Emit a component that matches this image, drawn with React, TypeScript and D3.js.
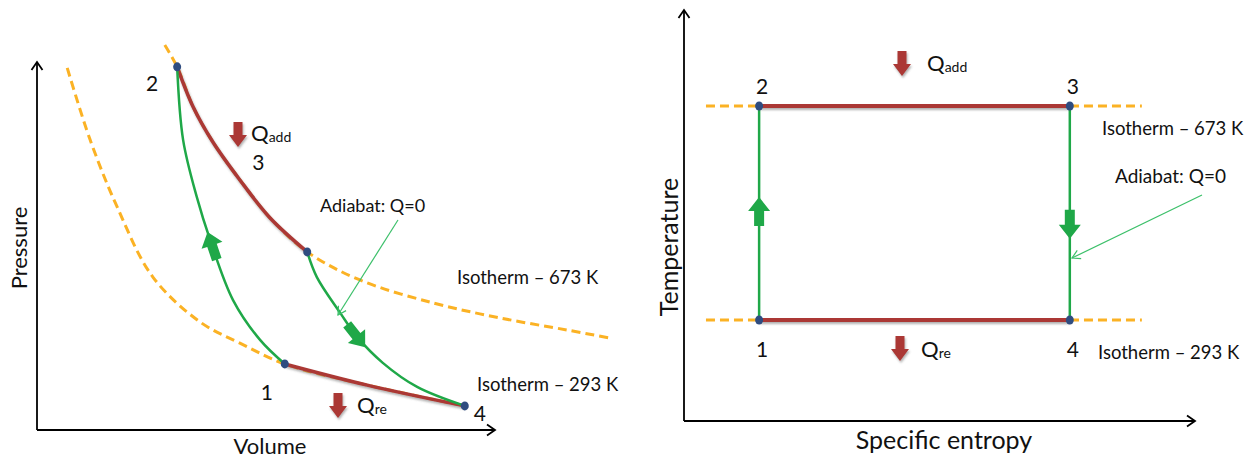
import React, { useEffect, useRef } from "react";
import * as d3 from "d3";

interface PV {
  v: number;
  p: number;
}

// P-V diagram, arbitrary units
const hotIsotherm: PV[] = [
  { v: 2.79, p: 10.55 },
  { v: 3.06, p: 9.95 },
  { v: 3.41, p: 8.85 },
  { v: 3.84, p: 7.89 },
  { v: 4.43, p: 6.85 },
  { v: 5.09, p: 5.81 },
  { v: 5.9, p: 4.88 },
  { v: 7.05, p: 4.11 },
  { v: 8.65, p: 3.48 },
  { v: 10.11, p: 3.07 },
  { v: 11.57, p: 2.74 },
  { v: 12.51, p: 2.52 },
];

const coldIsotherm: PV[] = [
  { v: 0.66, p: 9.92 },
  { v: 1.16, p: 7.95 },
  { v: 1.75, p: 6.11 },
  { v: 2.53, p: 4.19 },
  { v: 3.56, p: 2.96 },
  { v: 4.43, p: 2.38 },
  { v: 5.41, p: 1.81 },
  { v: 7.21, p: 1.23 },
  { v: 9.34, p: 0.66 },
];

// 1 -> 2
const adiabatCompression: PV[] = [
  { v: 5.41, p: 1.81 },
  { v: 4.87, p: 2.47 },
  { v: 4.28, p: 3.56 },
  { v: 3.78, p: 5.21 },
  { v: 3.49, p: 6.38 },
  { v: 3.19, p: 7.95 },
  { v: 3.06, p: 9.95 },
];

// 3 -> 4
const adiabatExpansion: PV[] = [
  { v: 5.9, p: 4.88 },
  { v: 6.11, p: 4.19 },
  { v: 6.62, p: 3.21 },
  { v: 6.99, p: 2.55 },
  { v: 7.55, p: 1.84 },
  { v: 8.3, p: 1.18 },
  { v: 9.34, p: 0.66 },
];

const statesPV = [
  { id: "1", v: 5.41, p: 1.81 },
  { id: "2", v: 3.06, p: 9.95 },
  { id: "3", v: 5.9, p: 4.88 },
  { id: "4", v: 9.34, p: 0.66 },
];

// T-s diagram
const tHot = 673;
const tCold = 293;
const sLow = 1.47;
const sHigh = 7.55;
const isothermSpanS = [0.43, 8.96];
const statesTS = [
  { id: "1", s: sLow, t: tCold },
  { id: "2", s: sLow, t: tHot },
  { id: "3", s: sHigh, t: tHot },
  { id: "4", s: sHigh, t: tCold },
];

const W = 1259;
const H = 457;
const FONT = "Lato, 'Open Sans', sans-serif";
const ORANGE = "#fbb224";
const RED = "#ab3934";
const GREEN = "#1fa848";
const DOT = "#2f4c80";

const App: React.FC = () => {
  const svgRef = useRef<SVGSVGElement | null>(null);

  useEffect(() => {
    const svg = d3.select(svgRef.current);
    svg.selectAll("*").remove();

    const defs = svg.append("defs");
    defs
      .append("marker")
      .attr("id", "axisHead")
      .attr("viewBox", "-10 -7 12 14")
      .attr("refX", 0)
      .attr("refY", 0)
      .attr("markerWidth", 12)
      .attr("markerHeight", 14)
      .attr("markerUnits", "userSpaceOnUse")
      .attr("orient", "auto")
      .append("path")
      .attr("d", "M-8,-5.5L0,0L-8,5.5")
      .attr("fill", "none")
      .attr("stroke", "#000")
      .attr("stroke-width", 1.8);
    defs
      .append("marker")
      .attr("id", "pointerHead")
      .attr("viewBox", "-10 -7 12 14")
      .attr("refX", 0)
      .attr("refY", 0)
      .attr("markerWidth", 12)
      .attr("markerHeight", 14)
      .attr("markerUnits", "userSpaceOnUse")
      .attr("orient", "auto")
      .append("path")
      .attr("d", "M-8,-4.5L0,0L-8,4.5")
      .attr("fill", "none")
      .attr("stroke", "#3cc06a")
      .attr("stroke-width", 1.2);
    // user-space region so flat (zero-height) lines keep their shadow
    const shadow = defs
      .append("filter")
      .attr("id", "shadow")
      .attr("filterUnits", "userSpaceOnUse")
      .attr("x", -60)
      .attr("y", -60)
      .attr("width", W + 120)
      .attr("height", H + 120);
    shadow
      .append("feDropShadow")
      .attr("dx", 1)
      .attr("dy", 2)
      .attr("stdDeviation", 1)
      .attr("flood-color", "#555")
      .attr("flood-opacity", 0.45);

    const blockArrow = "M-13,-5L2,-5L2,-11L16,0L2,11L2,5L-13,5Z";
    const redArrow = "M-4.5,-13L4.5,-13L4.5,0L9,0L0,12L-9,0L-4.5,0Z";

    const arrowAlong = (node: SVGPathElement, frac: number) => {
      const len = node.getTotalLength();
      const c = node.getPointAtLength(len * frac);
      const a = node.getPointAtLength(Math.max(0, len * frac - 5));
      const b = node.getPointAtLength(Math.min(len, len * frac + 5));
      const angle = (Math.atan2(b.y - a.y, b.x - a.x) * 180) / Math.PI;
      svg
        .append("path")
        .attr("d", blockArrow)
        .attr("fill", GREEN)
        .attr("transform", `translate(${c.x},${c.y}) rotate(${angle})`);
    };

    const qLabel = (x: number, y: number, sub: string) => {
      const t = svg
        .append("text")
        .attr("x", x)
        .attr("y", y)
        .attr("font-family", FONT)
        .attr("font-size", 22)
        .attr("fill", "#111");
      t.append("tspan").text("Q");
      t.append("tspan").attr("font-size", 14).attr("dy", 1).text(sub);
    };

    const plainText = (x: number, y: number, s: string, size: number, anchor = "start") =>
      svg
        .append("text")
        .attr("x", x)
        .attr("y", y)
        .attr("dominant-baseline", "central")
        .attr("text-anchor", anchor)
        .attr("font-family", FONT)
        .attr("font-size", size)
        .attr("fill", "#111")
        .text(s);

    // ---------- left: P-V ----------
    const vScale = d3.scaleLinear().domain([0, 10]).range([37, 495]);
    const pScale = d3.scaleLinear().domain([0, 10]).range([430, 65]);
    const pvLine = d3
      .line<PV>()
      .x((d) => vScale(d.v))
      .y((d) => pScale(d.p))
      .curve(d3.curveCatmullRom.alpha(0.5));

    svg.append("line").attr("x1", 37).attr("y1", 430).attr("x2", 37).attr("y2", 62)
      .attr("stroke", "#000").attr("stroke-width", 1.8).attr("marker-end", "url(#axisHead)");
    svg.append("line").attr("x1", 37).attr("y1", 430).attr("x2", 495).attr("y2", 430)
      .attr("stroke", "#000").attr("stroke-width", 1.8).attr("marker-end", "url(#axisHead)");

    [hotIsotherm, coldIsotherm].forEach((iso) => {
      svg.append("path").attr("d", pvLine(iso)).attr("fill", "none")
        .attr("stroke", ORANGE).attr("stroke-width", 3).attr("stroke-dasharray", "9,5");
    });

    const s1 = statesPV[0], s2 = statesPV[1], s3 = statesPV[2], s4 = statesPV[3];
    const heatAdd = hotIsotherm.filter((d) => d.v >= s2.v && d.v <= s3.v);
    const heatRej = coldIsotherm.filter((d) => d.v >= s1.v && d.v <= s4.v);
    [heatAdd, heatRej].forEach((seg) => {
      svg.append("path").attr("d", pvLine(seg)).attr("fill", "none")
        .attr("stroke", RED).attr("stroke-width", 3.5).attr("filter", "url(#shadow)");
    });

    const comp = svg.append("path").attr("d", pvLine(adiabatCompression)).attr("fill", "none")
      .attr("stroke", GREEN).attr("stroke-width", 2.5);
    const exp = svg.append("path").attr("d", pvLine(adiabatExpansion)).attr("fill", "none")
      .attr("stroke", GREEN).attr("stroke-width", 2.5);
    arrowAlong(comp.node() as SVGPathElement, 0.43);
    arrowAlong(exp.node() as SVGPathElement, 0.42);

    statesPV.forEach((d) => {
      svg.append("ellipse").attr("cx", vScale(d.v)).attr("cy", pScale(d.p))
        .attr("rx", 4).attr("ry", 4.5).attr("fill", DOT);
    });

    const pvLabelOffset: Record<string, [number, number]> = {
      "1": [-18, 28],
      "2": [-25, 16],
      "3": [-49, -90],
      "4": [15, 7],
    };
    statesPV.forEach((d) => {
      const [dx, dy] = pvLabelOffset[d.id];
      plainText(vScale(d.v) + dx, pScale(d.p) + dy, d.id, 21, "middle");
    });

    svg.append("path").attr("d", redArrow).attr("fill", RED).attr("filter", "url(#shadow)")
      .attr("transform", "translate(238,135)");
    qLabel(251, 141, "add");
    svg.append("path").attr("d", redArrow).attr("fill", RED).attr("filter", "url(#shadow)")
      .attr("transform", "translate(338,406)");
    qLabel(357, 413, "re");

    plainText(320, 205, "Adiabat: Q=0", 18);
    svg.append("line").attr("x1", 398).attr("y1", 220).attr("x2", 338).attr("y2", 315)
      .attr("stroke", "#3cc06a").attr("stroke-width", 1.2).attr("marker-end", "url(#pointerHead)");
    plainText(457, 277, "Isotherm – 673 K", 18.5);
    plainText(477, 384, "Isotherm – 293 K", 18.5);

    plainText(270, 445, "Volume", 22, "middle");
    plainText(0, 0, "Pressure", 22, "middle").attr("transform", "translate(18,248) rotate(-90)");

    // ---------- right: T-s ----------
    const sScale = d3.scaleLinear().domain([0, 10]).range([684, 1195]);
    const tScale = d3.scaleLinear().domain([tCold, tHot]).range([320, 106]);

    svg.append("line").attr("x1", 684).attr("y1", 421).attr("x2", 684).attr("y2", 10)
      .attr("stroke", "#000").attr("stroke-width", 1.8).attr("marker-end", "url(#axisHead)");
    svg.append("line").attr("x1", 684).attr("y1", 421).attr("x2", 1195).attr("y2", 421)
      .attr("stroke", "#000").attr("stroke-width", 1.8).attr("marker-end", "url(#axisHead)");

    [tHot, tCold].forEach((t) => {
      svg.append("line").attr("x1", sScale(isothermSpanS[0])).attr("x2", sScale(isothermSpanS[1]))
        .attr("y1", tScale(t)).attr("y2", tScale(t))
        .attr("stroke", ORANGE).attr("stroke-width", 3).attr("stroke-dasharray", "9,5");
      svg.append("line").attr("x1", sScale(sLow)).attr("x2", sScale(sHigh))
        .attr("y1", tScale(t)).attr("y2", tScale(t))
        .attr("stroke", RED).attr("stroke-width", 3.8).attr("filter", "url(#shadow)");
    });

    svg.append("line").attr("x1", sScale(sLow)).attr("x2", sScale(sLow))
      .attr("y1", tScale(tCold)).attr("y2", tScale(tHot)).attr("stroke", GREEN).attr("stroke-width", 2.5);
    svg.append("line").attr("x1", sScale(sHigh)).attr("x2", sScale(sHigh))
      .attr("y1", tScale(tHot)).attr("y2", tScale(tCold)).attr("stroke", GREEN).attr("stroke-width", 2.5);
    const span = tScale(tCold) - tScale(tHot);
    svg.append("path").attr("d", blockArrow).attr("fill", GREEN)
      .attr("transform", `translate(${sScale(sLow)},${tScale(tCold) - span * 0.5}) rotate(-90)`);
    svg.append("path").attr("d", blockArrow).attr("fill", GREEN)
      .attr("transform", `translate(${sScale(sHigh)},${tScale(tHot) + span * 0.545}) rotate(90)`);

    statesTS.forEach((d) => {
      svg.append("ellipse").attr("cx", sScale(d.s)).attr("cy", tScale(d.t))
        .attr("rx", 4).attr("ry", 4.5).attr("fill", DOT);
      const dy = d.t === tHot ? -21 : 28;
      plainText(sScale(d.s) + 3, tScale(d.t) + dy, d.id, 21, "middle");
    });

    svg.append("path").attr("d", redArrow).attr("fill", RED).attr("filter", "url(#shadow)")
      .attr("transform", "translate(902,64)");
    qLabel(927, 71, "add");
    svg.append("path").attr("d", redArrow).attr("fill", RED).attr("filter", "url(#shadow)")
      .attr("transform", "translate(900,349)");
    qLabel(921, 357, "re");

    plainText(1102, 128, "Isotherm – 673 K", 18.5);
    plainText(1098, 352, "Isotherm – 293 K", 18.5);
    plainText(1115, 175, "Adiabat: Q=0", 19);
    svg.append("line").attr("x1", 1202).attr("y1", 195).attr("x2", 1072).attr("y2", 258)
      .attr("stroke", "#3cc06a").attr("stroke-width", 1.2).attr("marker-end", "url(#pointerHead)");

    plainText(944, 439, "Specific entropy", 25, "middle");
    plainText(0, 0, "Temperature", 25, "middle").attr("transform", "translate(668,247) rotate(-90)");
  }, []);

  return (
    <svg
      ref={svgRef}
      width={W}
      height={H}
      style={{ position: "absolute", left: 0, top: 0, background: "#fff" }}
    />
  );
};

export default App;
